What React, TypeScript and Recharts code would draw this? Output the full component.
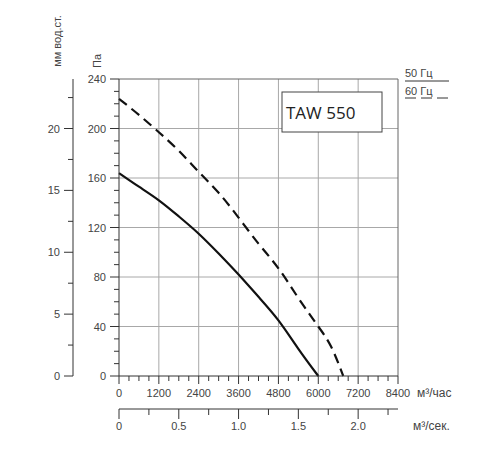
import { LineChart, Line, XAxis, YAxis, ReferenceLine } from 'recharts';

// 50 Hz curve (solid)
const flow50 = [0, 600, 1200, 1800, 2400, 3000, 3600, 4200, 4800, 5400, 6000];
const pa50 = [164, 153, 142, 129, 115, 99, 82, 64, 45, 22, 0];

// 60 Hz curve (dashed)
const flow60 = [0, 600, 1200, 1800, 2400, 3000, 3600, 4200, 4800, 5400, 6000, 6400, 6750];
const pa60 = [224, 211, 197, 182, 165, 148, 128, 107, 87, 63, 40, 23, 0];

const paTicks = [0, 10, 20, 30, 40, 50, 60, 70, 80, 90, 100, 110, 120, 130, 140, 150, 160, 170, 180, 190, 200, 210, 220, 230, 240];
const mmTicks = [0, 2.5, 5, 7.5, 10, 12.5, 15, 17.5, 20, 22.5];
const flowTicks = [0, 300, 600, 900, 1200, 1500, 1800, 2100, 2400, 2700, 3000, 3300, 3600, 3900, 4200, 4500, 4800, 5100, 5400, 5700, 6000, 6300, 6600, 6900, 7200, 7500, 7800, 8100, 8400];
const secTicks = [0, 0.25, 0.5, 0.75, 1, 1.25, 1.5, 1.75, 2, 2.25];

const gridPa = [40, 80, 120, 160, 200];
const gridFlow = [1200, 2400, 3600, 4800, 6000, 7200];

const MAX_FLOW = 8400;
const MAX_PA = 240;

const curve50 = flow50.map((q, i) => ({ q, pa: pa50[i] }));
const curve60 = flow60.map((q, i) => ({ q, pa: pa60[i] }));
// m³/s values only, so the second x axis has something to scale
const secRows = secTicks.map((s) => ({ s }));

const FONT = '"Liberation Sans", Arial, sans-serif';
const AXIS = '#333';
const GRID = '#a8a8a8';
const TEXT = '#444';

const LeftTick = (props: any) => {
  const { x, y, payload, step } = props;
  const v = payload.value;
  const major = Math.abs(v % step) < 1e-6;
  return (
    <g>
      <line x1={x - (major ? 9 : 5)} x2={x} y1={y} y2={y} stroke={AXIS} />
      {major && (
        <text x={x - 13} y={y} dy={4} textAnchor="end" fontSize={11} fontFamily={FONT} fill={TEXT}>
          {v}
        </text>
      )}
    </g>
  );
};

const BottomTick = (props: any) => {
  const { x, y, payload, step, big, small, gap, fmt } = props;
  const v = payload.value;
  const major = Math.abs(v % step) < 1e-6;
  return (
    <g>
      <line x1={x} x2={x} y1={y} y2={y + (major ? big : small)} stroke={AXIS} />
      {major && (
        <text x={x} y={y} dy={gap} textAnchor="middle" fontSize={11} fontFamily={FONT} fill={TEXT}>
          {fmt ? fmt(v) : v}
        </text>
      )}
    </g>
  );
};

const App = () => {
  return (
    <div style={{ position: 'absolute', left: 0, top: 0, width: 500, height: 450, background: '#fff' }}>
      <LineChart
        width={500}
        height={450}
        margin={{ top: 79, right: 102, left: 13, bottom: 11 }}
      >
        <XAxis
          xAxisId="h"
          type="number"
          dataKey="q"
          domain={[0, MAX_FLOW]}
          ticks={flowTicks}
          interval={0}
          height={33}
          tickSize={0}
          tickMargin={0}
          tickLine={false}
          axisLine={{ stroke: AXIS }}
          tick={<BottomTick step={1200} big={8} small={5} gap={21} />}
        />
        <XAxis
          xAxisId="s"
          type="number"
          dataKey="s"
          domain={[0, MAX_FLOW / 3600]}
          allowDataOverflow
          ticks={secTicks}
          interval={0}
          height={30}
          tickSize={0}
          tickMargin={0}
          tickLine={false}
          axisLine={{ stroke: AXIS }}
          tick={<BottomTick step={0.5} big={10} small={6} gap={21} fmt={(v: number) => (v === 0 ? '0' : v.toFixed(1))} />}
        />
        <YAxis
          yAxisId="left1"
          type="number"
          domain={[0, MAX_PA]}
          ticks={paTicks}
          interval={0}
          width={46}
          tickSize={0}
          tickMargin={0}
          tickLine={false}
          axisLine={{ stroke: AXIS }}
          tick={<LeftTick step={40} />}
        />
        <YAxis
          yAxisId="left2"
          type="number"
          domain={[0, MAX_PA / 10]}
          allowDataOverflow
          ticks={mmTicks}
          interval={0}
          width={60}
          tickSize={0}
          tickMargin={0}
          tickLine={false}
          axisLine={{ stroke: AXIS }}
          tick={<LeftTick step={5} />}
        />

        {gridPa.map((v) => (
          <ReferenceLine key={'y' + v} xAxisId="h" yAxisId="left1" y={v} stroke={GRID} />
        ))}
        {gridFlow.map((v) => (
          <ReferenceLine key={'x' + v} xAxisId="h" yAxisId="left1" x={v} stroke={GRID} />
        ))}
        <ReferenceLine xAxisId="h" yAxisId="left1" y={MAX_PA} stroke="#666" />
        <ReferenceLine xAxisId="h" yAxisId="left1" x={MAX_FLOW} stroke="#666" />

        <Line
          xAxisId="s"
          yAxisId="left2"
          data={secRows}
          dataKey="none"
          stroke="none"
          dot={false}
          legendType="none"
          isAnimationActive={false}
        />
        <Line
          xAxisId="h"
          yAxisId="left1"
          data={curve50}
          dataKey="pa"
          type="natural"
          stroke="#111"
          strokeWidth={2.2}
          dot={false}
          isAnimationActive={false}
        />
        <Line
          xAxisId="h"
          yAxisId="left1"
          data={curve60}
          dataKey="pa"
          type="natural"
          stroke="#111"
          strokeWidth={2.2}
          strokeDasharray="10 6"
          dot={false}
          isAnimationActive={false}
        />
      </LineChart>

      <svg
        width={500}
        height={450}
        style={{ position: 'absolute', left: 0, top: 0, pointerEvents: 'none' }}
        fontFamily={FONT}
        fill={TEXT}
      >
        <text transform="translate(61,41) rotate(-90)" textAnchor="middle" fontSize={11}>мм вод.ст.</text>
        <text transform="translate(101,61) rotate(-90)" textAnchor="middle" fontSize={11}>Па</text>

        <text x={417} y={397} fontSize={12}>м³/час</text>
        <text x={413} y={430} fontSize={12}>м³/сек.</text>

        <rect x={282} y={92} width={100} height={40} fill="#fff" stroke="#444" />
        <text x={286} y={119} fontSize={17} fontFamily='"Open Sans", sans-serif' fill="#222">TAW 550</text>

        <text x={405} y={77} fontSize={11}>50 Гц</text>
        <line x1={405} x2={449} y1={81} y2={81} stroke="#333" />
        <text x={405} y={95} fontSize={11}>60 Гц</text>
        <line x1={405} x2={416} y1={98} y2={98} stroke="#333" />
        <line x1={421} x2={432} y1={98} y2={98} stroke="#333" />
        <line x1={437} x2={448} y1={98} y2={98} stroke="#333" />
      </svg>
    </div>
  );
};

export default App;
